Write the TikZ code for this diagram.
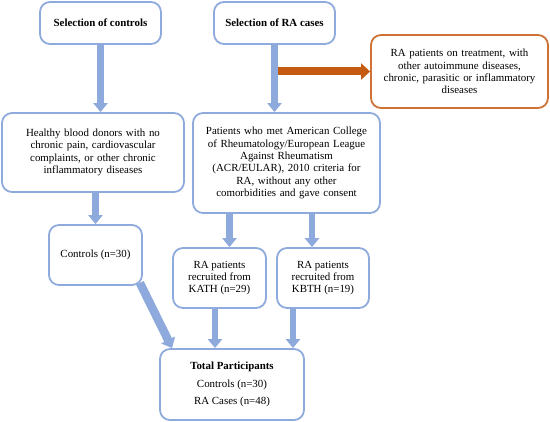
\documentclass[tikz,border=0pt]{standalone}
\usepackage{fontspec}
\setmainfont{Liberation Serif}
\usetikzlibrary{arrows.meta}
\definecolor{boxblue}{HTML}{8FAADC}
\definecolor{arrblue}{HTML}{8EA9DB}
\definecolor{orng}{HTML}{C55A11}
\begin{document}
\begin{tikzpicture}[x=1pt,y=-1pt,
  box/.style={draw=boxblue,line width=1.8pt,rounded corners=10pt,fill=white,
    align=center,inner sep=2pt,font=\fontsize{10.9}{12.4}\selectfont},
  obox/.style={box,draw=orng!85!white},
  barrow/.style={draw=arrblue,line width=6.5pt,-{Triangle[width=14pt,length=9pt]}},
  darrow/.style={draw=arrblue,line width=8.5pt,-{Triangle[width=15pt,length=9pt]}},
  oarrow/.style={draw=orng,line width=8pt,-{Triangle[width=16pt,length=9pt]}}]
\useasboundingbox (0,0) rectangle (550,422);
\node[box,minimum width=121pt,minimum height=42pt] (ctrlsel) at (100.5,23) {\textbf{Selection of controls}};
\node[box,minimum width=121pt,minimum height=42pt] (rasel) at (274.5,23) {\textbf{Selection of RA cases}};
\node[obox,minimum width=177pt,minimum height=73pt,text width=172pt] (excl) at (459.5,71.5) {RA patients on treatment, with\\other autoimmune diseases,\\chronic, parasitic or inflammatory\\diseases};
\node[box,minimum width=182pt,minimum height=79pt,text width=176pt] (healthy) at (93,152.5) {Healthy blood donors with no\\chronic pain, cardiovascular\\complaints, or other chronic\\inflammatory diseases};
\node[box,minimum width=187pt,minimum height=100pt,text width=182pt] (patients) at (286.5,163) {Patients who met American College\\of Rheumatology/European League\\Against Rheumatism\\(ACR/EULAR), 2010 criteria for\\RA, without any other\\comorbidities and gave consent};
\node[box,minimum width=93pt,minimum height=60pt] (controls) at (95.5,255) {Controls (n=30)};
\node[box,minimum width=93pt,minimum height=60pt] (kath) at (219.5,278) {RA patients\\recruited from\\KATH (n=29)};
\node[box,minimum width=92pt,minimum height=60pt] (kbth) at (323,278) {RA patients\\recruited from\\KBTH (n=19)};
\node[box,minimum width=144pt,minimum height=71pt] (total) at (232,384.5) {\textbf{Total Participants}\\[5pt]Controls (n=30)\\[5pt]RA Cases (n=48)};
% connectors
\draw[barrow] (ctrlsel.south) -- (ctrlsel.south |- healthy.north);
\draw[barrow] (controls.north |- healthy.south) -- (controls.north);
\draw[oarrow] ([xshift=3pt]rasel.south |- excl.west) -- (excl.west);
\draw[barrow] (rasel.south) -- (rasel.south |- patients.north);
\draw[barrow] ([xshift=10pt]kath.north |- patients.south) -- ([xshift=10pt]kath.north);
\draw[barrow] ([xshift=-11pt]kbth.north |- patients.south) -- ([xshift=-11pt]kbth.north);
\draw[barrow] ([xshift=-4.5pt]kath.south) -- ([xshift=-4.5pt]kath.south |- total.north);
\draw[barrow] ([xshift=-30pt]kbth.south) -- ([xshift=-30pt]kbth.south |- total.north);
\draw[darrow] ([xshift=-3pt,yshift=3pt]controls.south east) -- ([xshift=13pt]total.north west);
\end{tikzpicture}
\end{document}
